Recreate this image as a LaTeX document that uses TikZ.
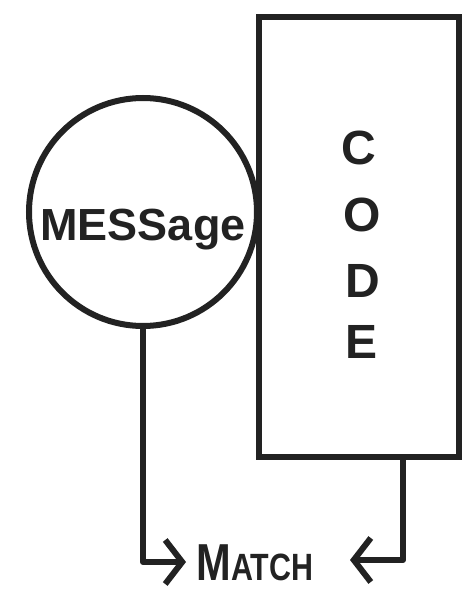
\documentclass[tikz,border=0pt]{standalone}
\usepackage{fontspec}
\setmainfont{Liberation Sans}
\usetikzlibrary{arrows.meta}
\definecolor{ink}{HTML}{222222}
\begin{document}
\begin{tikzpicture}[x=1pt,y=-1pt,
  inkline/.style={line width=6pt, draw=ink},
  conn/.style={inkline, line cap=round, line join=round,
    -{Straight Barb[length=17pt,width=44pt,line width=6pt]}},
  lab/.style={inner sep=0pt, text=ink, anchor=base},
  big/.style={lab, font=\bfseries\fontsize{45}{45}\selectfont},
  letter/.style={lab, font=\bfseries\fontsize{48}{48}\selectfont}]
\useasboundingbox[fill=white] (0,0) rectangle (466,591);
% shapes
\node[inkline, circle, minimum size=228pt, inner sep=0pt] (msg) at (143,212) {};
\node[inkline, rectangle, minimum width=200pt, minimum height=440pt, inner sep=0pt] (code) at (359,237) {};
% texts
\node[big] (msgtext) at (143,240) {MESSage};
\node[letter] (c1) at (359,164) {C};
\node[letter] (c2) at (362,231) {O};
\node[letter] (c3) at (363,297) {D};
\node[letter] (c4) at (362,358) {E};
\node[lab] (match) at (255,580)
  {\scalebox{0.8}[1]{\bfseries\fontsize{52}{52}\selectfont M\fontsize{38}{38}\selectfont ATCH}};
% arrow end points
\coordinate (ml) at (186,562);
\coordinate (mr) at (350,560);
% connectors
\draw[conn] (msg.south) |- (ml);
\draw[conn] ([xshift=44pt]code.south) |- (mr);
\end{tikzpicture}
\end{document}
